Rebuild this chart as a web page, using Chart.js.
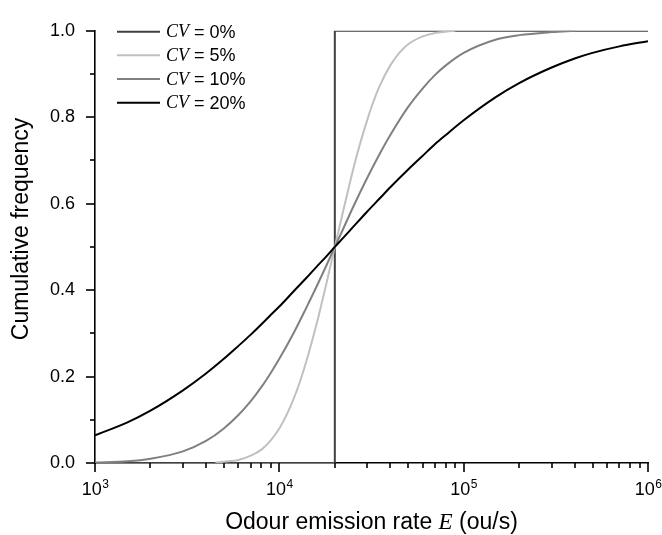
<!DOCTYPE html>
<html><head><meta charset="utf-8">
<script src="https://cdn.jsdelivr.net/npm/chart.js@4"></script>
<style>html,body{margin:0;padding:0;background:#fff;}#wrap{width:662px;height:535px;position:relative;}</style>
</head><body><div id="wrap"><canvas id="c" width="662" height="535"></canvas></div>
<script>
// ---- data ----
const eValues = [1000, 1500, 2000, 3000, 4000, 5000, 6000, 7000, 8000, 9000, 10000, 12000, 14000, 16000, 18000, 20000, 22000, 25000, 30000, 35000, 40000, 50000, 60000, 70000, 80000, 100000, 150000, 200000, 300000, 400000, 500000, 700000, 1000000];
const cv20Values = [0.064, 0.094, 0.121, 0.168, 0.207, 0.241, 0.271, 0.297, 0.321, 0.343, 0.362, 0.398, 0.428, 0.455, 0.478, 0.500, 0.519, 0.545, 0.582, 0.612, 0.638, 0.679, 0.711, 0.738, 0.759, 0.793, 0.847, 0.879, 0.915, 0.936, 0.949, 0.964, 0.976];
const cv10Values = [0.001, 0.004, 0.010, 0.027, 0.051, 0.080, 0.111, 0.143, 0.176, 0.209, 0.241, 0.302, 0.359, 0.410, 0.457, 0.500, 0.538, 0.590, 0.660, 0.715, 0.759, 0.824, 0.867, 0.898, 0.920, 0.949, 0.980, 0.990, 0.997, 1.000];
const cv5E = [4500, 5000, 6000, 7000, 8000, 9000, 10000, 11000, 12000, 13000, 14000, 15000, 16000, 17000, 18000, 19000, 20000, 22000, 24000, 25000, 27000, 30000, 32000, 35000, 40000, 45000, 50000, 60000, 70000, 80000, 90000];
const cv5Values = [0.001, 0.003, 0.007, 0.017, 0.031, 0.053, 0.080, 0.113, 0.150, 0.191, 0.235, 0.280, 0.325, 0.371, 0.415, 0.459, 0.500, 0.576, 0.644, 0.675, 0.729, 0.794, 0.830, 0.872, 0.920, 0.950, 0.969, 0.987, 0.995, 0.998, 1.000];
const cv0E = [1000, 20000, 20000, 1000000];
const cv0Values = [0, 0, 1, 1];
const seriesLabels = ['0%', '5%', '10%', '20%'];
const seriesColors = ['#404040', '#c0c0c0', '#808080', '#000000'];
const yTickLabels = ['0.0', '0.2', '0.4', '0.6', '0.8', '1.0'];
const xTickBase = '10';
const xTickExponents = ['3', '4', '5', '6'];
const xTitleParts = ['Odour emission rate ', 'E', ' (ou/s)'];
const yTitle = 'Cumulative frequency';

const SANS = '"Liberation Sans", Arial, sans-serif';
const SERIF = '"Liberation Serif", "Times New Roman", serif';

function pts(xs, ys) { return ys.map((y, i) => ({x: xs[i], y: y})); }

function mkSet(label, color, data, smooth) {
  return {label: label, data: data, showLine: true, borderColor: color, backgroundColor: color,
    borderWidth: 2, pointRadius: 0, fill: false,
    cubicInterpolationMode: smooth ? 'monotone' : 'default', tension: 0};
}

const datasets = [
  mkSet(seriesLabels[3], seriesColors[3], pts(eValues, cv20Values), true),
  mkSet(seriesLabels[2], seriesColors[2], pts(eValues, cv10Values), true),
  mkSet(seriesLabels[1], seriesColors[1], pts(cv5E, cv5Values), true),
  mkSet(seriesLabels[0], seriesColors[0], pts(cv0E, cv0Values), false)
];

const decor = {
  id: 'decor',
  afterDraw(chart) {
    const ctx = chart.ctx;
    const xs = chart.scales.x, ys = chart.scales.y;
    const ca = chart.chartArea;
    ctx.save();
    ctx.strokeStyle = '#000';
    ctx.lineWidth = 1.6;
    // x ticks
    for (let e = 3; e <= 6; e++) {
      for (let m = 1; m <= 9; m++) {
        if (e === 6 && m > 1) break;
        const px = Math.round(xs.getPixelForValue(m * Math.pow(10, e)));
        const len = m === 1 ? 9 : 5;
        ctx.beginPath(); ctx.moveTo(px, ca.bottom); ctx.lineTo(px, ca.bottom + len); ctx.stroke();
      }
    }
    // y ticks
    for (let k = 0; k <= 10; k++) {
      const py = Math.round(ys.getPixelForValue(k / 10));
      const len = k % 2 === 0 ? 9 : 5;
      ctx.beginPath(); ctx.moveTo(ca.left, py); ctx.lineTo(ca.left - len, py); ctx.stroke();
    }
    // x tick labels
    ctx.fillStyle = '#000';
    ctx.textBaseline = 'alphabetic';
    ctx.textAlign = 'left';
    xTickExponents.forEach((ex, i) => {
      const px = xs.getPixelForValue(Math.pow(10, 3 + i));
      ctx.font = '18px ' + SANS;
      const w1 = ctx.measureText(xTickBase).width;
      ctx.font = '12px ' + SANS;
      const w2 = ctx.measureText(ex).width;
      const x0 = px - (w1 + w2) / 2;
      ctx.font = '18px ' + SANS;
      ctx.fillText(xTickBase, x0, 495);
      ctx.font = '12px ' + SANS;
      ctx.fillText(ex, x0 + w1 + 0.5, 488);
    });
    // x title
    const fonts = ['23px ' + SANS, 'italic 23px ' + SERIF, '23px ' + SANS];
    let tw = 0;
    const ws = xTitleParts.map((t, i) => { ctx.font = fonts[i]; const w = ctx.measureText(t).width; tw += w; return w; });
    let xx = (ca.left + ca.right) / 2 - tw / 2;
    xTitleParts.forEach((t, i) => { ctx.font = fonts[i]; ctx.fillText(t, xx, 529); xx += ws[i]; });
    // y title
    ctx.save();
    ctx.translate(22, 229);
    ctx.rotate(-Math.PI / 2);
    ctx.font = '23px ' + SANS;
    ctx.textAlign = 'center';
    ctx.textBaseline = 'middle';
    ctx.fillText(yTitle, 0, 0);
    ctx.restore();
    // legend
    const rows = [31.7, 55.3, 79, 102.7];
    seriesLabels.forEach((lab, i) => {
      const y = rows[i];
      ctx.strokeStyle = seriesColors[i];
      ctx.lineWidth = 2;
      ctx.beginPath(); ctx.moveTo(117, y); ctx.lineTo(160, y); ctx.stroke();
      ctx.textBaseline = 'middle';
      ctx.textAlign = 'left';
      ctx.font = 'italic 18px ' + SERIF;
      ctx.fillStyle = '#000';
      ctx.fillText('CV', 166, y + 1);
      const wcv = ctx.measureText('CV').width;
      ctx.font = '18px ' + SANS;
      ctx.fillText(' = ' + lab, 166 + wcv, y + 1);
    });
    ctx.restore();
  }
};

new Chart(document.getElementById('c'), {
  type: 'scatter',
  data: {datasets: datasets},
  options: {
    responsive: false, animation: false, devicePixelRatio: 1,
    layout: {padding: {left: 0, right: 14, top: 18, bottom: 0}},
    plugins: {legend: {display: false}, tooltip: {enabled: false}},
    scales: {
      x: {
        type: 'logarithmic', min: 1000, max: 1000000,
        grid: {display: false, drawTicks: false},
        border: {display: true, color: '#000', width: 1.6},
        ticks: {display: false},
        afterFit(s) { s.height = 72; }
      },
      y: {
        type: 'linear', min: 0, max: 1,
        grid: {display: false, drawTicks: false},
        border: {display: true, color: '#000', width: 1.6},
        ticks: {stepSize: 0.2, padding: 20, color: '#000',
          font: {family: SANS, size: 18},
          callback: (v, i) => yTickLabels[i]},
        afterFit(s) { s.width = 95; }
      }
    }
  },
  plugins: [decor]
});
</script></body></html>
